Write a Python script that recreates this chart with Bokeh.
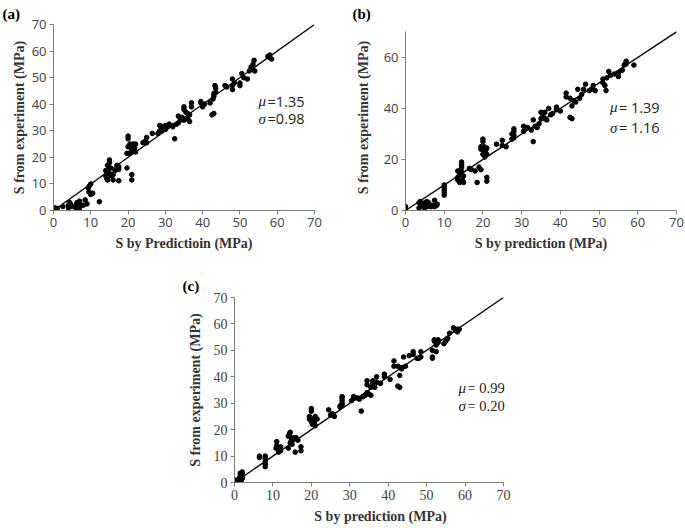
from bokeh.plotting import figure
from bokeh.layouts import column, row
from bokeh.models import Range1d, Label, FixedTicker, Spacer
from bokeh.embed import file_html
from bokeh.resources import INLINE

# ---------------- data ----------------
a_pred = [0, 0.3, 0.5, 1, 2.5, 4, 4, 4.3, 4.5, 5, 6, 6, 6.3, 6.5, 7, 7, 7, 8, 8.5, 9,
          9.5, 9.5, 10, 10, 10.5, 9.3, 12.3,
          14, 14, 14.3, 14.5, 14.5, 15, 15, 15, 15.3, 14.7, 15.5, 16, 16, 16.5, 17, 17.5, 17.5, 17.5, 19.7,
          19.7, 20, 20, 20, 20.5, 20.8, 21, 21, 21, 21.3, 21.5, 22, 22, 21.8, 20.5,
          24, 24.5, 25, 25, 26.5,
          28, 28.5, 28.5, 29, 29, 29.5, 30, 30, 30.5, 31, 32, 32, 32.5,
          33, 33.5, 33.5, 34, 34.5, 35, 35, 35, 35.5, 36, 36, 36.5, 37, 37, 36.5,
          39.5, 39.5, 40, 40.5, 42, 42.5, 43, 42.8, 43, 43, 43.3, 43.5, 43.5,
          46, 46.5, 48, 48, 48.5, 48, 50, 50, 50.5, 51, 52, 52.5, 53, 53.5, 53.5, 53.8, 54,
          57.5, 58, 58, 58.5, 57.8]
a_exp = [0.5, 1, 0.3, 0.8, 1.5, 1, 2, 3, 2.5, 1.5, 1, 2, 3, 2, 1, 3.5, 2.5, 2, 4, 2.5,
         7, 9, 10, 6, 6.5, 8.5, 3.3,
         13, 15, 12, 11.5, 17, 18, 19, 14, 16, 15.5, 13, 13.5, 11.5, 15, 17, 16.5, 11.2, 15.5, 16,
         21.5, 28, 27, 24, 25, 22, 13.5, 11.5, 23, 25, 24, 22, 25, 23.5, 21.5,
         25.5, 26, 25.5, 27.5, 29,
         29, 30, 32, 31, 30, 31.5, 32, 30.5, 31.5, 32.5, 31.5, 32, 27,
         32.5, 35.5, 33, 34, 35, 38, 39, 34, 37, 36.5, 34.5, 36, 40.5, 39, 33.5,
         40.5, 41, 39, 40, 40.5, 36, 36.5, 42, 43, 44, 47, 46, 44.5,
         47, 46.5, 45.5, 49.5, 48, 47, 47, 48, 51.5, 50, 49.5, 52.5, 54, 53, 55, 56.5, 52.5,
         58, 57.5, 58.5, 57, 57.8]

b_pred = [0, 0, 0,
          3.5, 3.5, 3.8, 4, 4.3, 5, 5, 5.2, 5.5, 5.5, 6, 6, 6.5, 7, 7.5, 8, 7.5, 8.2,
          10, 10, 10, 10, 10,
          13.5, 13.5, 13.5, 14, 14, 14.3, 14.5, 14.5, 14.5, 14.5, 14.7, 15, 15, 16.5, 17, 18, 18.5, 19, 19.5,
          19.5, 19.5, 20, 20, 20, 20.3, 20.5, 20.5, 20.8, 21, 21, 21, 21, 20.7,
          23.5, 25, 25, 26,
          27.5, 27.5, 28, 28, 28, 28,
          30.5, 30.5, 31.5, 32.5, 33, 33, 33.5, 34, 34.5, 35, 35, 35.5, 36, 36, 36.5, 37, 37.5, 38, 39, 39, 40,
          41.5, 41.5, 42.5, 42.5, 43, 43, 43.5, 44, 44.5, 45, 45.5, 46, 46.5, 47.5, 48, 48.5, 49,
          51, 51, 51.5, 51.8, 52, 52.5, 53, 54, 55, 55, 56, 56.5, 57, 57, 57, 59]
b_exp = [0, 1, 1.5,
         1, 3, 3.5, 2, 1.5, 1, 3, 2.5, 1.5, 3.5, 2, 3, 1.5, 2, 1.5, 2, 4, 2.5,
         6, 7, 8, 9, 10,
         12, 13, 15.5, 14, 11, 16, 17, 18, 19, 15, 12, 13.5, 11, 16.5, 16, 15.5, 11, 17, 16,
         25, 24, 28, 27, 22, 25, 23, 21, 24, 13, 11.5, 22, 24.5, 22.5,
         26, 27.5, 25.5, 25,
         28, 30, 32, 31, 29.5, 28.5,
         31, 33, 32.5, 31.5, 35.5, 27, 33, 32.5, 34, 36, 38.5, 37, 38.5, 36, 35.5, 40, 37.5, 38, 40.5, 39.5, 39,
         46, 44.5, 44, 36.5, 36, 41, 43, 42.5, 47.5, 44, 45.5, 47.5, 49.5, 47, 47.5, 49, 47,
         50, 51.5, 49, 47, 52, 54.5, 53, 53.5, 52.5, 54, 55, 57, 58, 58.5, 57.5, 57]

c_pred = [0, 0, 0, 0.3, 0.5,
          1, 1.2, 1.5, 1.5, 1.8, 2, 2, 1.8, 2, 1.5, 2,
          6.5, 6.5, 8, 8, 8, 8, 8,
          10.8, 11, 11, 11.3, 11.5, 12, 12,
          14, 14, 14.3, 14.5, 14.5, 14.8, 15, 15, 15.3, 15.8, 16, 16.5, 17.3, 17.3,
          19.5, 19.5, 20, 20, 20, 20.3, 20.5, 20.8, 21, 21, 21.5,
          24.5, 25, 25.5, 26,
          27.5, 27.5, 28, 28, 28, 28, 28,
          30.5, 31, 31.5, 32, 32.5, 33, 33.5, 34, 34.5, 34.5, 34.5, 35, 35.5, 35.5, 36, 36, 36.5, 37, 37, 38, 39, 39, 40.5,
          41.5, 41.5, 42.5, 42.5, 43, 43, 43.5, 43.5, 44, 44.5, 45.5, 46.5, 46.5, 47.5, 48, 48.5, 48.5,
          51.5, 51.5, 51.5, 52, 52, 52.5, 52.5, 53, 53, 54.5, 55, 55.5, 56, 57, 57.5, 58, 58.5, 58]
c_exp = [0, 0.5, 1, 0.3, 0.5,
         1, 1.5, 2, 2.5, 3, 3.5, 4, 1, 1.5, 3.5, 2,
         9.5, 10, 6, 7, 8, 9, 10,
         13, 15.5, 14, 13, 11.5, 12, 13.5,
         13, 17.5, 18.5, 19, 15, 16, 17, 14.5, 16.5, 11.5, 17, 16, 13.5, 12,
         24, 25, 28, 27, 23, 22, 24, 22.5, 21.5, 25, 24,
         27.5, 25.5, 26, 25,
         29, 28.5, 30, 31, 32, 32.5, 29.5,
         31, 32.5, 32, 32, 31.5, 27, 32.5, 33, 38.5, 37, 34, 33.5, 33, 36, 38.5, 37.5, 36, 40, 38, 37.5, 41, 40, 39,
         46, 44, 44, 36.5, 36, 40.5, 43, 43.5, 47.5, 44, 48, 49.5, 48.5, 47, 47, 49.5, 47.5,
         50, 47.5, 47, 54, 53.5, 52, 49.5, 54, 53, 52.5, 53.5, 54.5, 56.5, 58.5, 57.5, 58, 58, 57]

line_x = [0, 70]
x_ticks = [0, 10, 20, 30, 40, 50, 60, 70]
y_ticks_a = [0, 10, 20, 30, 40, 50, 60, 70]
y_ticks_b = [0, 20, 40, 60]
y_ticks_c = [0, 10, 20, 30, 40, 50, 60, 70]
tags = ["(a)", "(b)", "(c)"]

SERIF = "Liberation Serif"
SANS = "Open Sans"


def make_panel(xs, ys, yticks, width, height, bl, br, bt, bb, xmax, ymax, xlabel, tag, mu, sigma,
               tick_font, tick_size, mu_pos, sig_pos, eq_gap, ylab_standoff, tag_shift, tag_standoff):
    p = figure(width=width, height=height, output_backend="svg", toolbar_location=None,
               x_range=Range1d(0, xmax), y_range=Range1d(0, ymax),
               min_border_left=bl, min_border_right=br, min_border_top=bt, min_border_bottom=bb)
    p.outline_line_color = None
    p.grid.visible = False
    p.background_fill_color = "white"
    p.border_fill_color = "white"
    p.title.text = tag
    p.title.align = "left"
    p.title.offset = tag_shift
    p.title.standoff = tag_standoff
    p.title.text_font = SERIF
    p.title.text_font_style = "bold"
    p.title.text_font_size = "15px"
    p.title.text_color = "black"
    p.line(line_x, line_x, line_color="black", line_width=1.3)
    p.scatter(xs, ys, size=4.6, color="black")
    for ax in (p.xaxis[0], p.yaxis[0]):
        ax.bounds = (0, 70)
        ax.axis_line_color = "#7a7a7a"
        ax.major_tick_line_color = "#7a7a7a"
        ax.major_tick_in = 0
        ax.major_tick_out = 4
        ax.minor_tick_line_color = None
        ax.major_label_text_font = tick_font
        ax.major_label_text_font_size = tick_size
        ax.major_label_text_color = "#404040"
        ax.axis_label_text_font = SERIF
        ax.axis_label_text_font_style = "bold"
        ax.axis_label_text_font_size = "14px"
        ax.axis_label_text_color = "#333333"
        ax.major_label_standoff = 3
        ax.axis_label_standoff = 6
    p.yaxis[0].axis_label_standoff = ylab_standoff
    p.xaxis[0].ticker = FixedTicker(ticks=x_ticks)
    p.yaxis[0].ticker = FixedTicker(ticks=yticks)
    p.xaxis[0].axis_label = xlabel
    p.yaxis[0].axis_label = "S from experiment (MPa)"
    for sym, val, pos in (("μ", mu, mu_pos), ("σ", sigma, sig_pos)):
        p.add_layout(Label(x=pos[0], y=pos[1], text=sym, text_font=SERIF,
                           text_font_style="italic", text_font_size="15px",
                           text_baseline="middle", text_color="#222222"))
        p.add_layout(Label(x=pos[0], y=pos[1], x_offset=eq_gap, text=val, text_font=tick_font,
                           text_font_size="14.5px", text_baseline="middle", text_color="#222222"))
    return p


# frames: (a) top 24 / bottom 210; (b) shares the top edge, its 0..70 span ends at y=31.5
pa = make_panel(a_pred, a_exp, y_ticks_a, 340, 270, 53, 26, 24, 60, 70, 70,
                "S by Predictioin (MPa)", tags[0], "=1.35", "=0.98", SANS, "13px",
                (55, 41.2), (55, 34.5), 9, 2, -51, 5)
pb = make_panel(b_pred, b_exp, y_ticks_b, 344, 270, 65, 8, 24, 60, 70, 72.9,
                "S by prediction (MPa)", tags[1], " = 1.39", " = 1.16", SANS, "13px",
                (52.8, 40.4), (52.8, 32.5), 9, 10, -53, 5)
pc = make_panel(c_pred, c_exp, y_ticks_c, 356, 257, 54, 10, 27, 45, 76, 70,
                "S by prediction (MPa)", tags[2], " = 0.99", " = 0.20", SERIF, "14px",
                (58.3, 35.6), (58.3, 29.1), 9, 8, -52, 8)

layout = column(row(pa, pb, spacing=0),
                row(Spacer(width=180, height=257), pc, spacing=0), spacing=0)
open("out.html", "w").write(file_html(layout, INLINE))
